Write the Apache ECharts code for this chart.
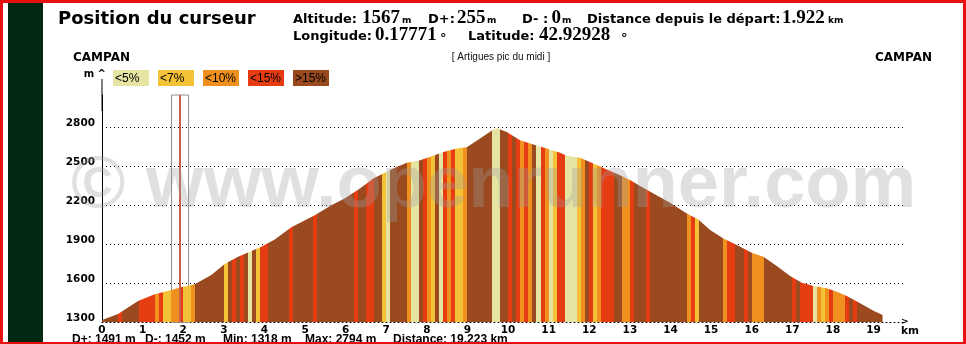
<!DOCTYPE html>
<html>
<head>
<meta charset="utf-8">
<script src="https://cdn.jsdelivr.net/npm/echarts@6/dist/echarts.min.js"></script>
<style>
  html, body { margin: 0; padding: 0; background: #fff; }
  #chart { width: 966px; height: 344px; }
</style>
</head>
<body>
<div id="chart"></div>
<script>
// Elevation profile vertices: distance from start (km) and altitude (m)
const profileKm = [0, 0.394, 0.887, 1.298, 1.707, 1.922, 2.283, 2.692, 3.022, 3.350,
  3.924, 4.254, 4.663, 5.239, 5.648, 5.985, 6.305, 6.502, 6.682, 6.929,
  7.175, 7.505, 7.833, 8.160, 8.406, 8.736, 8.983, 9.310, 9.638, 9.729,
  9.968, 10.296, 10.623, 10.953, 11.281, 11.446, 11.773, 12.101, 12.431, 12.759,
  13.005, 13.251, 13.579, 13.990, 14.401, 14.687, 14.975, 15.303, 15.633, 16.002,
  16.288, 16.618, 16.946, 17.234, 17.520, 17.850, 18.096, 18.342, 18.670, 18.998, 19.223];
const profileAlt = [1318, 1364, 1464, 1515, 1548, 1567, 1592, 1664, 1748, 1805,
  1882, 1938, 2031, 2125, 2202, 2255, 2320, 2365, 2408, 2446,
  2485, 2528, 2548, 2582, 2612, 2638, 2648, 2715, 2785, 2794,
  2766, 2702, 2669, 2638, 2605, 2582, 2566, 2523, 2477, 2433,
  2395, 2349, 2292, 2220, 2138, 2092, 2010, 1946, 1895, 1835,
  1805, 1733, 1656, 1605, 1579, 1562, 1535, 1502, 1446, 1389, 1357];

// Slope bands along the route: start of each band (km) and its slope class
const bandStartKm = [0, 0.4, 0.5, 0.9, 1.3, 1.4, 1.5, 1.7, 1.9, 2.0,
  2.2, 2.3, 3.0, 3.1, 3.2, 3.3, 3.4, 3.5, 3.6, 3.7,
  3.8, 3.9, 4.1, 4.6, 4.7, 5.2, 5.3, 6.2, 6.3, 6.5,
  6.7, 6.9, 7.0, 7.1, 7.5, 7.6, 7.8, 7.9, 8.0, 8.1,
  8.2, 8.3, 8.4, 8.5, 8.6, 8.7, 8.9, 9.0, 9.6, 9.8,
  10.0, 10.1, 10.2, 10.3, 10.4, 10.5, 10.6, 10.7, 10.8, 10.9,
  11.0, 11.1, 11.2, 11.4, 11.7, 11.8, 11.9, 12.0, 12.1, 12.2,
  12.3, 12.6, 12.8, 13.0, 13.1, 13.4, 13.5, 14.4, 14.5, 14.6,
  14.7, 15.3, 15.4, 15.6, 15.8, 15.9, 16.0, 16.3, 17.0, 17.1,
  17.2, 17.5, 17.6, 17.7, 17.8, 17.9, 18.0, 18.3, 18.4, 18.5, 18.6];
const bandClass = [4, 3, 4, 3, 2, 3, 1, 2, 3, 1,
  2, 4, 1, 4, 3, 4, 3, 4, 0, 4,
  1, 3, 4, 3, 4, 3, 4, 3, 4, 3,
  4, 1, 0, 4, 2, 0, 4, 3, 2, 1,
  4, 0, 3, 2, 3, 1, 2, 4, 0, 4,
  3, 4, 3, 2, 3, 2, 4, 0, 3, 2,
  0, 1, 3, 0, 1, 2, 4, 3, 1, 2,
  3, 4, 2, 3, 4, 3, 4, 2, 3, 1,
  4, 2, 3, 4, 3, 4, 2, 4, 3, 4,
  3, 0, 2, 1, 2, 3, 2, 3, 4, 3, 4];

const routeKm = 19.223;
const slopeLabels = ['<5%', '<7%', '<10%', '<15%', '>15%'];
const slopeColors = ['#e6e4a2', '#f4c236', '#f0901e', '#e63c12', '#9a4a1e'];

// Cursor readout
const cursorKm = 1.922;
const cursorAlt = 1567;
const cursorDPlus = 255;
const cursorDMinus = 0;
const cursorLon = '0.17771';
const cursorLat = '42.92928';

// Route summary
const statNames = ['D+:', 'D-:', 'Min:', 'Max:', 'Distance:'];
const statValues = ['1491 m', '1452 m', '1318 m', '2794 m', routeKm + ' km'];

// Axis settings
const altMin = 1300, altTop = 2800, altStep = 300, altAxisMax = 3050;
const kmStep = 1, kmAxisMax = 19.8;

const SANS = '"DejaVu Sans", Verdana, sans-serif';
const ARIAL = '"Liberation Sans", Arial, sans-serif';
const SERIF = '"Liberation Serif", "Times New Roman", serif';

// visualMap pieces colour the area band by band along the distance axis
const pieces = bandStartKm.map((s, i) => {
  const p = { gte: s, color: slopeColors[bandClass[i]] };
  if (i < bandStartKm.length - 1) p.lt = bandStartKm[i + 1];
  else p.lte = routeKm + 1;
  return p;
});

const graphic = [];
// dark side bar
graphic.push({ type: 'rect', shape: { x: 8, y: 0, width: 35, height: 344 }, style: { fill: '#052814' }, z: 1 });

function txt(x, y, text, font, extra) {
  graphic.push(Object.assign({
    type: 'text', x: x, y: y, z: 50,
    style: Object.assign({ text: text, font: font, fill: '#000', verticalAlign: 'middle', align: 'left' }, extra || {})
  }));
}

// header
txt(58, 19, 'Position du curseur', 'bold 18px ' + SANS);
const LAB = 'bold 13px ' + SANS, NUM = 'bold 19px ' + SERIF, UNI = 'bold 9px ' + SANS, DEG = 'bold 13px ' + SANS;
txt(293, 19.2, 'Altitude:', LAB);
txt(362, 17.7, String(cursorAlt), NUM);
txt(402, 21, 'm', UNI);
txt(428, 19.2, 'D+:', LAB);
txt(457, 17.7, String(cursorDPlus), NUM);
txt(487, 21, 'm', UNI);
txt(522, 19.2, 'D- :', LAB);
txt(551.5, 17.7, String(cursorDMinus), NUM);
txt(562, 21, 'm', UNI);
txt(587, 19.2, 'Distance depuis le départ:', LAB);
txt(782, 17.7, cursorKm.toFixed(3), NUM);
txt(828, 21, 'km', UNI);

txt(293, 36.4, 'Longitude:', LAB);
txt(375, 35.2, cursorLon, NUM);
txt(440, 39, '°', DEG);
txt(468, 36.4, 'Latitude:', LAB);
txt(539, 35.2, cursorLat, NUM);
txt(621, 39, '°', DEG);

// route ends and name
txt(73, 57.7, 'CAMPAN', 'bold 12px ' + SANS);
txt(932, 57.7, 'CAMPAN', 'bold 12px ' + SANS, { align: 'right' });
txt(501, 57.5, '[ Artigues pic du midi ]', '10px ' + ARIAL, { align: 'center', fill: '#111' });

// slope legend
slopeLabels.forEach((lab, i) => {
  const x = 113 + i * 45;
  graphic.push({ type: 'rect', z: 50, shape: { x: x, y: 70, width: 36, height: 16 }, style: { fill: slopeColors[i] } });
  txt(x + 2, 78.5, lab, '12px ' + ARIAL);
});

// route summary
const statX = [72, 145, 223, 305, 393];
statNames.forEach((n, i) => txt(statX[i], 339.9, n + ' ' + statValues[i], 'bold 12px ' + ARIAL));

// watermark
graphic.push({
  type: 'text', x: 71, y: 187, z: 100,
  style: { text: '© www.openrunner.com', font: 'bold 74px ' + ARIAL, fill: 'rgba(160,160,160,0.32)', verticalAlign: 'middle' }
});

// red frame
const RED = '#e5100f';
[[0, 0, 966, 3], [0, 0, 3, 344], [963, 0, 3, 344], [0, 342, 966, 2]].forEach(r => {
  graphic.push({ type: 'rect', z: 200, shape: { x: r[0], y: r[1], width: r[2], height: r[3] }, style: { fill: RED } });
});

const chart = echarts.init(document.getElementById('chart'), null, { renderer: 'canvas' });
chart.setOption({
  animation: false,
  backgroundColor: '#fff',
  grid: { left: 102, top: 95, width: 804, height: 227.3, containLabel: false },
  xAxis: {
    type: 'value', min: 0, max: kmAxisMax, interval: kmStep,
    axisLine: { show: true, lineStyle: { color: '#000', width: 1, type: [1, 3] } },
    axisTick: { show: false },
    splitLine: { show: false },
    axisLabel: {
      showMaxLabel: false, margin: 2, color: '#000',
      fontFamily: SANS, fontWeight: 'bold', fontSize: 10.5,
      formatter: v => Number.isInteger(v) ? String(v) : ''
    },
    name: '{a|>}\n{b|km}', nameLocation: 'end', nameGap: -5,
    nameTextStyle: {
      align: 'left', verticalAlign: 'middle', padding: [10, 0, 0, 0],
      rich: {
        a: { fontFamily: SANS, fontSize: 9, fontWeight: 'bold', color: '#000', lineHeight: 7 },
        b: { fontFamily: SANS, fontSize: 10.5, fontWeight: 'bold', color: '#000', lineHeight: 11 }
      }
    }
  },
  yAxis: {
    type: 'value', min: altMin, max: altAxisMax, interval: altStep,
    axisLine: { show: true, lineStyle: { color: '#000', width: 1 }, symbol: ['none', 'rect'], symbolSize: [1, 32] },
    axisTick: { show: false },
    splitLine: { show: true, showMinLine: false, showMaxLine: false, lineStyle: { color: '#000', width: 1, type: [1, 3] } },
    axisLabel: {
      margin: 7, color: '#000', fontFamily: SANS, fontWeight: 'bold', fontSize: 10.5,
      verticalAlign: 'bottom', lineHeight: 8,
      formatter: v => v <= altTop ? String(v) : ''
    },
    name: 'm ^', nameLocation: 'end', nameGap: 21,
    nameTextStyle: { align: 'right', verticalAlign: 'middle', padding: [0, -4, 0, 0], fontFamily: SANS, fontWeight: 'bold', fontSize: 10, color: '#000' }
  },
  visualMap: {
    show: false, type: 'piecewise', dimension: 0, seriesIndex: 0,
    pieces: pieces, outOfRange: { color: slopeColors[4] }
  },
  series: [{
    type: 'line',
    data: profileKm.map((k, i) => [k, profileAlt[i]]),
    showSymbol: false, symbol: 'none', silent: true,
    lineStyle: { width: 0 },
    areaStyle: { opacity: 1, origin: 'start' },
    z: 2,
    markArea: {
      silent: true,
      itemStyle: { color: 'rgba(0,0,0,0)', borderColor: '#8f8f8f', borderWidth: 1 },
      data: [[{ xAxis: cursorKm - 0.21 }, { xAxis: cursorKm + 0.21 }]]
    },
    markLine: {
      silent: true, symbol: ['none', 'none'], label: { show: false },
      lineStyle: { color: '#c8604f', width: 2, type: 'solid' },
      data: [{ xAxis: cursorKm }]
    }
  }],
  graphic: graphic
});
</script>
</body>
</html>
